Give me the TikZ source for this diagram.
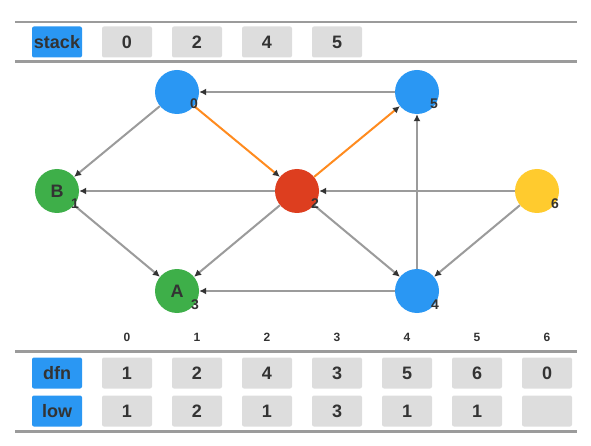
\documentclass[tikz,border=0pt]{standalone}
\usepackage{fontspec}
\setmainfont{Liberation Sans}
\usetikzlibrary{arrows.meta}
\definecolor{nblue}{HTML}{2A97F3}
\definecolor{ngreen}{HTML}{3EAF49}
\definecolor{nred}{HTML}{DD3E1F}
\definecolor{nyellow}{HTML}{FFCB2E}
\definecolor{norange}{HTML}{FF8B1F}
\definecolor{boxgray}{HTML}{DDDDDD}
\definecolor{rulegray}{HTML}{9B9B9B}
\definecolor{txt}{HTML}{333333}
\begin{document}
\begin{tikzpicture}[x=1pt,y=-1pt,
  vnode/.style={circle, minimum size=44pt, inner sep=0pt, text=txt,
    font=\bfseries\fontsize{18}{18}\selectfont},
  valbox/.style={fill=boxgray, rounded corners=2pt, minimum width=50pt,
    minimum height=31pt, inner sep=0pt, text=txt,
    font=\bfseries\fontsize{18}{18}\selectfont},
  headbox/.style={valbox, fill=nblue},
  edge/.style={draw=rulegray, line width=2pt,
    -{Latex[length=7pt,width=7pt,color=txt]}},
  tedge/.style={edge, draw=norange},
  numlbl/.style={inner sep=0pt, text=txt, font=\bfseries\fontsize{14}{14}\selectfont},
  idx/.style={inner sep=0pt, text=txt, font=\bfseries\fontsize{12}{12}\selectfont},
  rulel/.style={draw=rulegray, line width=2.5pt}]
\useasboundingbox (0,0) rectangle (591,446);
% rules
\draw[rulel] (15,22) -- (577,22);
\draw[rulel] (15,61.5) -- (577,61.5);
\draw[rulel] (15,351.5) -- (577,351.5);
\draw[rulel] (15,431.5) -- (577,431.5);
% stack row
\node[headbox] (stk) at (57,42) {stack};
\node[valbox] (s0) at (127,42) {0};
\node[valbox] (s1) at (197,42) {2};
\node[valbox] (s2) at (267,42) {4};
\node[valbox] (s3) at (337,42) {5};
% graph nodes
\node[vnode, fill=nblue] (n0) at (177,92) {};
\node[vnode, fill=nblue] (n5) at (417,92) {};
\node[vnode, fill=ngreen] (nB) at (57,191) {B};
\node[vnode, fill=nred] (n2) at (297,191) {};
\node[vnode, fill=nyellow] (n6) at (537,191) {};
\node[vnode, fill=ngreen] (nA) at (177,291) {A};
\node[vnode, fill=nblue] (n4) at (417,291) {};
% edges
\draw[edge] (n0) -- (nB);
\draw[tedge] (n0) -- (n2);
\draw[tedge] (n2) -- (n5);
\draw[edge] (n5) -- (n0);
\draw[edge] (n2) -- (nB);
\draw[edge] (n6) -- (n2);
\draw[edge] (nB) -- (nA);
\draw[edge] (n2) -- (nA);
\draw[edge] (n2) -- (n4);
\draw[edge] (n6) -- (n4);
\draw[edge] (n4) -- (nA);
\draw[edge] (n4) -- (n5);
% node numbers
\node[numlbl] (l0) at (194,104) {0};
\node[numlbl] (l5) at (434,104) {5};
\node[numlbl] (lB) at (75,204) {1};
\node[numlbl] (l2) at (315,204) {2};
\node[numlbl] (l6) at (555,204) {6};
\node[numlbl] (lA) at (195,305) {3};
\node[numlbl] (l4) at (435,305) {4};
% index labels
\foreach \i in {0,...,6} {
  \node[idx] (i\i) at (127+70*\i,337) {\i};
}
% dfn row
\node[headbox] (dfnh) at (57,373) {dfn};
\foreach \v [count=\i from 0] in {1,2,4,3,5,6,0} {
  \node[valbox] (d\i) at (127+70*\i,373) {\v};
}
% low row
\node[headbox] (lowh) at (57,411) {low};
\foreach \v [count=\i from 0] in {1,2,1,3,1,1,{}} {
  \node[valbox] (w\i) at (127+70*\i,411) {\v};
}
\end{tikzpicture}
\end{document}
